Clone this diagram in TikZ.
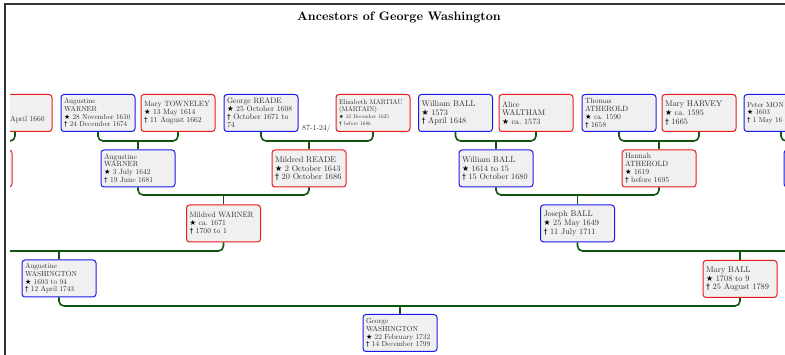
\documentclass[tikz,border=0pt]{standalone}
\usepackage{fontspec}
\usepackage{graphicx}
\setmainfont{lmroman10-regular.otf}[BoldFont=lmroman10-bold.otf]
\newfontfamily\symfont{DejaVu Sans}
\usetikzlibrary{calc}

\definecolor{edgegreen}{RGB}{15,85,15}
\definecolor{boxfill}{gray}{0.94}
\definecolor{boxtext}{gray}{0.18}
\definecolor{malecol}{RGB}{25,25,235}
\definecolor{femalecol}{RGB}{235,25,25}
\definecolor{framecol}{gray}{0.2}

% birth and death symbols
\newcommand\gbirth{{\symfont\color{black}\scalebox{0.95}{★}}}
\newcommand\gdeath{{\symfont\color{black}\scalebox{0.95}{†}}}

\tikzset{
  x=1pt, y=-1pt,
  person/.style={rectangle, rounded corners=3pt, line width=1pt, fill=boxfill,
    minimum width=74pt, minimum height=37pt, text width=68pt,
    inner xsep=3pt, inner ysep=0pt, align=left, text=boxtext},
  male/.style={person, draw=malecol},
  female/.style={person, draw=femalecol},
  fs/.style={font=\fontsize{#1}{\the\dimexpr #1pt*105/100\relax}\selectfont},
  edge/.style={draw=edgegreen, line width=1.6pt, rounded corners=5pt},
}

\begin{document}
\begin{tikzpicture}
\useasboundingbox (0,0) rectangle (785,355);

% outer frame
\draw[framecol, line width=1.6pt] (5,360) -- (5,4) -- (790,4);

\node[font=\fontsize{12.3}{14}\selectfont\bfseries] (title) at (399,17) {Ancestors of George Washington};

\begin{scope}
\clip (10,5) rectangle (785,355);

% row levels of the family bars
\coordinate (barA) at (0,141);
\coordinate (barB) at (0,195);
\coordinate (barC) at (0,251);
\coordinate (barD) at (0,306);

% generation 0
\node[female] (a0) at (15,113) {};
\node[text=boxtext, fs=7.5, anchor=west, inner sep=0pt] (a0text) at (10,120) {April 1660};
\node[male, fs=7.2] (aw0) at (98,113) {Augustine\\WARNER\\\gbirth{} 28 November 1610\\\gdeath{} 24 December 1674};
\node[female, fs=7.6] (mt) at (178,113) {Mary TOWNELEY\\\gbirth{} 13 May 1614\\\gdeath{} 11 August 1662};
\node[male, fs=7.8] (gr) at (261,113) {George READE\\\gbirth{} 25 October 1608\\\gdeath{} October 1671 to\\74};
\node[female, fs=6.8] (em) at (373,113) {Elizabeth MARTIAU\\(MARTAIN)\\{\fontsize{5.3}{6.6}\selectfont\gbirth{} 12 December 1625}\\{\fontsize{5.3}{6.6}\selectfont\gdeath{} before 1686}};
\node[male, fs=8.3] (wb0) at (455.5,113) {William BALL\\\gbirth{} 1573\\\gdeath{} April 1648};
\node[female, fs=8.1] (alw) at (536,113) {Alice\\WALTHAM\\\gbirth{} ca.\ 1573};
\node[male, fs=7.6] (ta) at (619,113) {Thomas\\ATHEROLD\\\gbirth{} ca.\ 1590\\\gdeath{} 1658};
\node[female, fs=8.2] (mh) at (699,113) {Mary HARVEY\\\gbirth{} ca.\ 1595\\\gdeath{} 1665};
\node[male, fs=7.2] (pm) at (781,113) {Peter MON\\\gbirth{} 1603\\\gdeath{} 1 May 16};
\node[text=boxtext, fs=7.8, anchor=west, inner sep=0pt] (rdnote) at (302,129) {87-1-24/};

% generation 1
\node[female] (l1left) at (-25,168.5) {};
\node[male, fs=7.5] (aw1) at (138,168.5) {Augustine\\WARNER\\\gbirth{} 3 July 1642\\\gdeath{} 19 June 1681};
\node[female, fs=8.3] (mr) at (309,168.5) {Mildred READE\\\gbirth{} 2 October 1643\\\gdeath{} 20 October 1686};
\node[male, fs=8.2] (wb1) at (496,168.5) {William BALL\\\gbirth{} 1614 to 15\\\gdeath{} 15 October 1680};
\node[female, fs=7.6] (ha) at (659,168.5) {Hannah\\ATHEROLD\\\gbirth{} 1619\\\gdeath{} before 1695};
\node[male] (l1right) at (821,168.5) {};

% generation 2
\node[female, fs=7.7] (mw) at (223.5,223.5) {Mildred WARNER\\\gbirth{} ca.\ 1671\\\gdeath{} 1700 to 1};
\node[male, fs=8.2] (jb) at (577.5,223.5) {Joseph BALL\\\gbirth{} 25 May 1649\\\gdeath{} 11 July 1711};

% generation 3
\node[male, fs=7.3] (awa) at (59,278.5) {Augustine\\WASHINGTON\\\gbirth{} 1693 to 94\\\gdeath{} 12 April 1743};
\node[female, fs=8.3] (mb) at (740,279) {Mary BALL\\\gbirth{} 1708 to 9\\\gdeath{} 25 August 1789};

% generation 4
\node[male, fs=7.3] (gw) at (400,333) {George\\WASHINGTON\\\gbirth{} 22 February 1732\\\gdeath{} 14 December 1799};

% family junctions
\coordinate (fW)  at (aw1.north |- barA);
\coordinate (fR)  at (mr.north |- barA);
\coordinate (fB)  at (wb1.north |- barA);
\coordinate (fA)  at (ha.north |- barA);
\coordinate (fLA) at (-60,141);
\coordinate (fRA) at (860,141);
\coordinate (fMW) at (mw.north |- barB);
\coordinate (fJB) at (jb.north |- barB);
\coordinate (fLC) at (-60,251);
\coordinate (fRC) at (860,251);
\coordinate (fAW) at (awa.north |- barC);
\coordinate (fMB) at (mb.north |- barC);
\coordinate (fGW) at (gw.north |- barD);

% generation 0 to 1
\draw[edge] (a0.south) |- (fLA);
\draw[edge] (aw0.south) |- (fW) -| (mt.south);
\draw[edge] (fW) -- (aw1.north);
\draw[edge] (gr.south) |- (fR) -| (em.south);
\draw[edge] (fR) -- (mr.north);
\draw[edge] (wb0.south) |- (fB) -| (alw.south);
\draw[edge] (fB) -- (wb1.north);
\draw[edge] (ta.south) |- (fA) -| (mh.south);
\draw[edge] (fA) -- (ha.north);
\draw[edge] (pm.south) |- (fRA);

% generation 1 to 2
\draw[edge] (aw1.south) |- (fMW) -| (mr.south);
\draw[edge] (fMW) -- (mw.north);
\draw[edge] (wb1.south) |- (fJB) -| (ha.south);
\draw[edge] (fJB) -- (jb.north);

% generation 2 to 3
\draw[edge] (mw.south) |- (fLC);
\draw[edge] (fAW) -- (awa.north);
\draw[edge] (jb.south) |- (fRC);
\draw[edge] (fMB) -- (mb.north);

% generation 3 to 4
\draw[edge] (awa.south) |- (fGW) -| (mb.south);
\draw[edge] (fGW) -- (gw.north);
\end{scope}
\end{tikzpicture}
\end{document}
